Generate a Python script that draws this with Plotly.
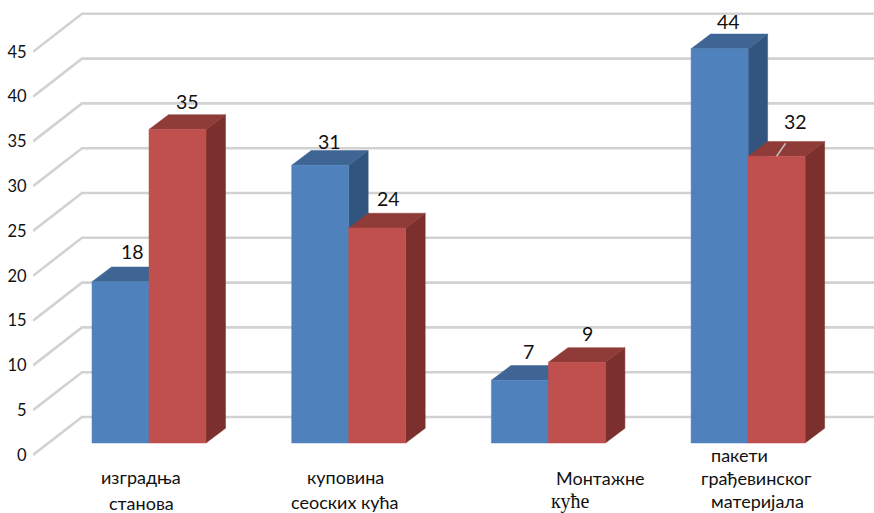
import plotly.graph_objects as go

# ---- data ----
categories = ["изградња станова", "куповина сеоских кућа", "Монтажне куће", "пакети грађевинског материјала"]
series_a = [18, 31, 7, 44]
series_b = [35, 24, 9, 32]
y_ticks = [0, 5, 10, 15, 20, 25, 30, 35, 40, 45]

# ---- label layout: text, x centre (px), y centre (px), font ----
label_lines = ["изградња", "станова", "куповина", "сеоских кућа", "Монтажне", "кућe",
               "пакети", "грађевинског", "материјала"]
label_px_x = [141, 141, 345, 345, 600, 570, 739, 756, 757]
label_px_y = [477, 503, 477, 502, 478, 501, 455, 478, 501]
label_serif = [False, False, False, False, False, True, False, False, False]

# value-label shifts from the bar's front-top centre (px)
shift_a = [(12, 30), (9, 24), (9, 29), (9, 27)]
shift_b = [(10, 28), (11, 29), (11, 29), (19, 35)]

# ---- geometry (px on the 874x513 page) ----
W, H = 874, 513
PX_PER_UNIT = 8.96
Y0_PX = 455          # axis zero at front-left corner
X0_PX = 149          # centre of first group
X_STEP = 199.7       # px per category
LEFT = 33
BAR_W = 57 / X_STEP
FLOOR = 12 / PX_PER_UNIT           # bar base above axis zero
DX, DY = 19.5 / X_STEP, 14.7 / PX_PER_UNIT   # bar depth
WALL_DX, WALL_DY = 49 / X_STEP, 38 / PX_PER_UNIT  # wall depth

x_of = lambda px: (px - X0_PX) / X_STEP
y_of = lambda px: (Y0_PX - px) / PX_PER_UNIT

BLUE = ("#4F81BD", "#3E6594", "#325580")
RED = ("#C0504D", "#8F3C39", "#7B302E")
FONT = "Lato"
TXT = "#111111"

fig = go.Figure()

# gridlines: diagonal on side wall, then horizontal along back wall
gx, gy = [], []
for t in y_ticks:
    gx += [x_of(LEFT), x_of(LEFT) + WALL_DX, x_of(W + 5), None]
    gy += [t, t + WALL_DY, t + WALL_DY, None]
fig.add_trace(go.Scatter(x=gx, y=gy, mode="lines", line=dict(color="#D2D2D2", width=2.6),
                         hoverinfo="skip", showlegend=False, cliponaxis=False))


def add_poly(xs, ys, color):
    fig.add_trace(go.Scatter(x=xs, y=ys, mode="lines", fill="toself", fillcolor=color,
                             line=dict(color=color, width=0.5), hoverinfo="skip", showlegend=False))


def add_series(values, offset, colors):
    front, top, side = colors
    fx, fy, tx, ty, sx, sy = [], [], [], [], [], []
    for i, v in enumerate(values):
        l = i + offset * BAR_W
        r = l + BAR_W
        b = FLOOR
        h = FLOOR + v
        fx += [l, r, r, l, l, None]
        fy += [b, b, h, h, b, None]
        tx += [l, r, r + DX, l + DX, l, None]
        ty += [h, h, h + DY, h + DY, h, None]
        sx += [r, r + DX, r + DX, r, r, None]
        sy += [b, b + DY, h + DY, h, b, None]
    add_poly(sx, sy, side)
    add_poly(tx, ty, top)
    add_poly(fx, fy, front)


add_series(series_a, -1, BLUE)
add_series(series_b, 0, RED)

# leader line on the last value label
fig.add_trace(go.Scatter(x=[3 + 0.5 * BAR_W, 3 + 0.5 * BAR_W + 9 / X_STEP],
                         y=[FLOOR + series_b[3], FLOOR + series_b[3] + 13 / PX_PER_UNIT],
                         mode="lines", line=dict(color="#BFBFBF", width=1.5),
                         hoverinfo="skip", showlegend=False))

# value labels
for values, off, shifts in ((series_a, -0.5, shift_a), (series_b, 0.5, shift_b)):
    for i, v in enumerate(values):
        fig.add_annotation(x=i + off * BAR_W, y=FLOOR + v, text=str(v), showarrow=False,
                           xshift=shifts[i][0], yshift=shifts[i][1],
                           xanchor="center", yanchor="middle",
                           font=dict(family=FONT, size=19.5, color=TXT))

# category labels
for txt, px, py, serif in zip(label_lines, label_px_x, label_px_y, label_serif):
    fig.add_annotation(x=x_of(px), y=y_of(py), text=txt, showarrow=False,
                       xanchor="center", yanchor="middle",
                       font=dict(family="Liberation Serif" if serif else FONT,
                                 size=20 if serif else 18, color=TXT))

fig.update_layout(
    width=W, height=H, autosize=False,
    margin=dict(l=LEFT, r=0, t=0, b=0),
    paper_bgcolor="white", plot_bgcolor="white", showlegend=False,
    xaxis=dict(range=[x_of(LEFT), x_of(W)], visible=False, fixedrange=True),
    yaxis=dict(range=[y_of(H), y_of(0)], tickvals=y_ticks, showgrid=False, zeroline=False,
               showline=False, ticks="outside", ticklen=2, tickcolor="rgba(0,0,0,0)",
               tickfont=dict(family=FONT, size=16.5, color=TXT), automargin=False, fixedrange=True),
)
fig.write_html("out.html", config=dict(displayModeBar=False),
               post_script="document.body.style.margin='0';document.body.style.overflow='hidden';")
